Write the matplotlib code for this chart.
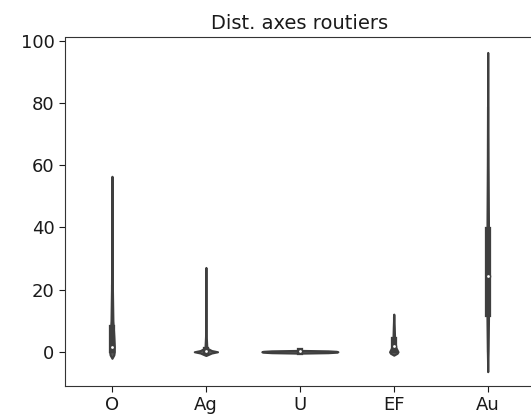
import numpy as np
import matplotlib
matplotlib.use("Agg")
import matplotlib.pyplot as plt

categories = ["O", "Ag", "U", "EF", "Au"]

# violin density profiles: y support values and half-widths (category units)
violin_y = {
    "O":  [-2.1, -1.0, 0.0, 2.0, 5.0, 10.0, 20.0, 40.0, 56.4],
    "Ag": [-1.2, -0.4, 0.0, 0.4, 1.2, 5.0, 27.1],
    "U":  [-0.45, -0.3, -0.15, 0.0, 0.15, 0.3, 0.45],
    "EF": [-1.1, -0.5, 0.0, 0.6, 1.5, 3.0, 5.0, 8.0, 12.1],
    "Au": [-6.4, 0.0, 10.0, 25.0, 40.0, 60.0, 78.0, 96.2],
}
violin_w = {
    "O":  [0.0, 0.02, 0.025, 0.025, 0.02, 0.01, 0.005, 0.003, 0.0],
    "Ag": [0.0, 0.06, 0.124, 0.06, 0.01, 0.004, 0.0],
    "U":  [0.0, 0.30, 0.39, 0.405, 0.39, 0.30, 0.0],
    "EF": [0.0, 0.035, 0.045, 0.035, 0.02, 0.012, 0.008, 0.005, 0.0],
    "Au": [0.0, 0.004, 0.008, 0.01, 0.008, 0.004, 0.002, 0.0],
}

# inner box statistics
q1 = [0.5, 0.0, -0.1, 0.5, 12.0]
median = [1.6, 0.3, 0.1, 1.8, 24.2]
q3 = [7.6, 0.5, 0.2, 3.8, 39.0]
whisker_lo = [0.0, 0.0, -0.3, 0.0, 0.3]
whisker_hi = [21.0, 1.2, 0.4, 11.0, 78.3]

title = "Dist. axes routiers"

gray = "#3f3f3f"
fill = "#5a5a5a"
lw = 1.5

fig = plt.figure(figsize=(5.31, 4.19), dpi=100)
ax = fig.add_axes([65 / 531, 1 - 386 / 419, (534.7 - 65) / 531, (386 - 37.5) / 419])

for i, cat in enumerate(categories):
    y = np.array(violin_y[cat])
    w = np.array(violin_w[cat])
    ax.fill_betweenx(y, i - w, i + w, facecolor=fill, edgecolor=gray, linewidth=lw, zorder=1)
    ax.plot([i, i], [whisker_lo[i], whisker_hi[i]], color=gray, linewidth=lw, zorder=2)
    ax.plot([i, i], [q1[i], q3[i]], color=gray, linewidth=lw * 3, zorder=2)
    ax.scatter([i], [median[i]], s=np.square(lw * 2), color="white", edgecolor=gray, zorder=3)

ax.set_xticks(range(len(categories)))
ax.set_xticklabels(categories)
ax.set_xlim(-0.5, len(categories) - 0.5)
ax.set_ylim(-11, 101)
ax.set_yticks([0, 20, 40, 60, 80, 100])
ax.tick_params(labelsize=13, colors="#1a1a1a", length=4)
for s in ax.spines.values():
    s.set_color("#333333")
ax.set_title(title, fontsize=14, color="#1a1a1a")

fig.savefig("out.png", dpi=100)
